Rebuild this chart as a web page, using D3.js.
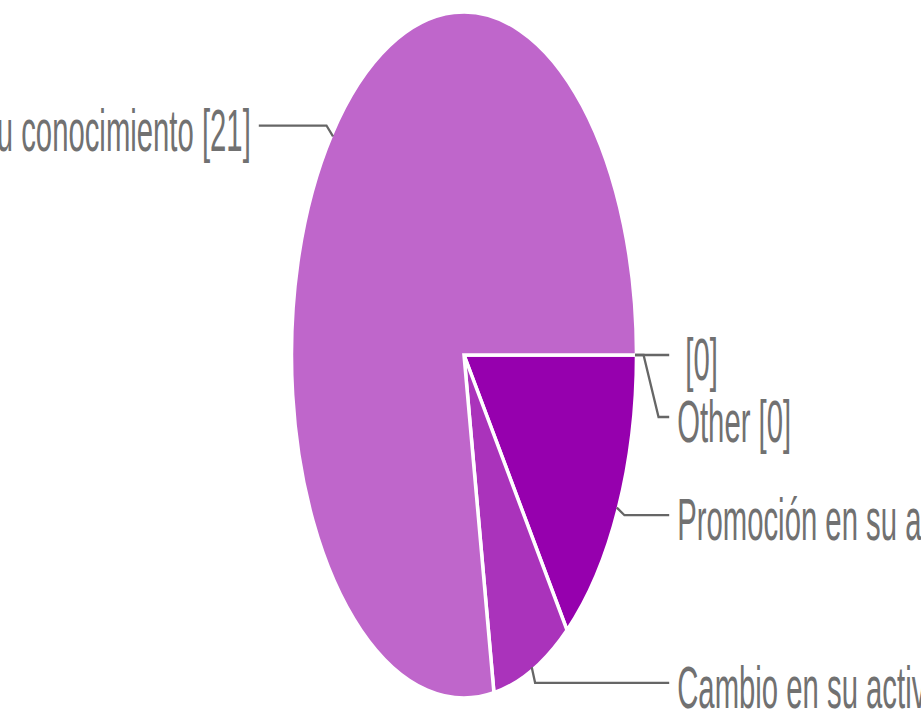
<!DOCTYPE html>
<html>
<head>
<meta charset="utf-8">
<script src="https://cdn.jsdelivr.net/npm/d3@7"></script>
<style>
body { margin: 0; background: #fff; overflow: hidden; }
svg { display: block; }
</style>
</head>
<body>
<svg id="chart" width="921" height="710"></svg>
<script>
// data, in the order the slices are drawn (clockwise from 3 o'clock)
var labels = ["", "Other", "Promoción en su actividad", "Cambio en su actividad", "Ampliar su conocimiento"];
var values = [0, 0, 4, 2, 21];
var colors = ["#9a00b0", "#b23fc2", "#9600ae", "#aa33bb", "#bf66cb"];

var width = 921, height = 710;
var cx = 464, cy = 355;
var rx = 171, ry = 340;          // the pie is stretched into an ellipse
var fontSize = 29.3, textStretch = 2.02;

var svg = d3.select("#chart");

var slices = labels.map(function(d, i) {
	return { label: d, value: values[i], color: colors[i] };
});

var pie = d3.pie()
	.sort(null)
	.value(function(d) { return d.value; })
	.startAngle(Math.PI / 2)
	.endAngle(Math.PI / 2 + 2 * Math.PI);

var arcs = pie(slices);

var arc = d3.arc()
	.innerRadius(0)
	.outerRadius(rx + 1.5);

// draw slices
var pieG = svg.append("g")
	.attr("transform", "translate(" + cx + "," + cy + ") scale(1," + (ry / rx) + ")");

pieG.selectAll("path")
	.data(arcs)
	.enter()
	.append("path")
	.attr("d", arc)
	.style("fill", function(d) { return d.data.color; })
	.style("stroke", "#fff")
	.style("stroke-width", 3.5)
	.attr("vector-effect", "non-scaling-stroke");

// point on the stretched circle
function edgePoint(angle, k) {
	return [cx + rx * k * Math.sin(angle), cy - ry * k * Math.cos(angle)];
}

// label layout
var items = arcs.map(function(d) {
	var mid = (d.startAngle + d.endAngle) / 2;
	var edge = edgePoint(mid, 1);
	var elbow = edgePoint(mid, 1.05);
	return {
		d: d,
		edge: edge,
		elbow: elbow,
		right: Math.sin(mid) >= 0,
		y: elbow[1],
		text: d.data.label + " [" + d.data.value + "]"
	};
});

// push overlapping labels down on each side
[true, false].forEach(function(side) {
	var group = items.filter(function(it) { return it.right == side; })
		.sort(function(a, b) { return a.y - b.y; });
	for (var i = 1; i < group.length; i++)
		if (group[i].y - group[i - 1].y < 62)
			group[i].y = group[i - 1].y + 62;
});

var line = d3.line();

items.forEach(function(it) {
	var endX = it.right ? cx + rx * 1.2 : cx - rx * 1.2;
	var pts = [it.edge, it.elbow];
	if (Math.abs(it.y - it.elbow[1]) > 1)
		pts.push([it.elbow[0] + (it.right ? 15 : -15), it.y]);
	else
		pts[1] = [it.elbow[0], it.y];
	pts.push([endX, it.y]);

	svg.append("path")
		.attr("d", line(pts))
		.style("fill", "none")
		.style("stroke", "#666")
		.style("stroke-width", 2.3);

	var textX = it.right ? endX + 8 : endX - 8;
	svg.append("g")
		.attr("transform", "translate(" + textX + "," + (it.y + 25) + ") scale(1," + textStretch + ")")
		.append("text")
		.attr("x", 0)
		.attr("y", 0)
		.style("text-anchor", it.right ? "start" : "end")
		.style("font-family", "'Liberation Sans', Arial, sans-serif")
		.style("font-size", fontSize + "px")
		.style("fill", "#717171")
		.style("white-space", "pre")
		.text(it.text);
});
</script>
</body>
</html>
